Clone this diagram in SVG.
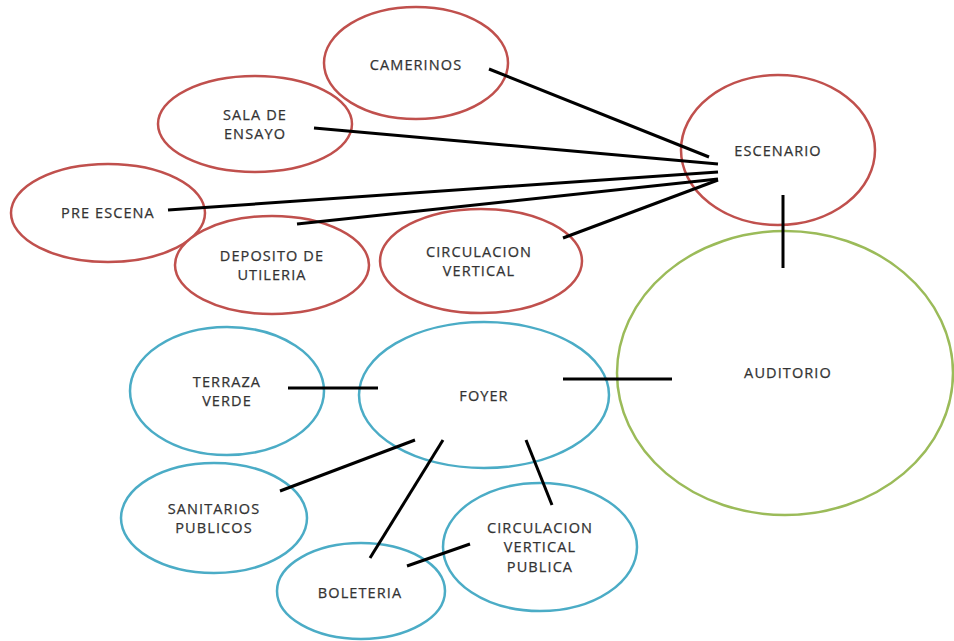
<svg xmlns="http://www.w3.org/2000/svg" width="954" height="641" viewBox="0 0 954 641">
<style>
.n{fill:#fff;stroke-width:2.5}
.r{stroke:#c0504d}
.g{stroke:#9bbb59}
.b{stroke:#4bacc6}
text{font-family:"Open Sans","Liberation Sans",sans-serif;font-size:14.5px;fill:#333;text-anchor:middle;letter-spacing:1.1px;stroke:#333;stroke-width:0.25px}
.c line{stroke:#000;stroke-width:3;stroke-linecap:butt}
</style>
<rect width="954" height="641" fill="#fff"/>
<g id="camerinos"><ellipse class="n r" cx="416" cy="63" rx="92" ry="56"/><text x="416" y="70">CAMERINOS</text></g>
<g id="sala-ensayo"><ellipse class="n r" cx="255" cy="124" rx="97" ry="48"/><text x="255" y="120">SALA DE</text><text x="255" y="139">ENSAYO</text></g>
<g id="pre-escena"><ellipse class="n r" cx="108" cy="213" rx="97" ry="49"/><text x="108" y="218">PRE ESCENA</text></g>
<g id="deposito"><ellipse class="n r" cx="272" cy="265" rx="97" ry="49"/><text x="272" y="261">DEPOSITO DE</text><text x="272" y="280">UTILERIA</text></g>
<g id="circulacion-vertical"><ellipse class="n r" cx="481" cy="261" rx="101" ry="52"/><text x="479" y="257">CIRCULACION</text><text x="479" y="276">VERTICAL</text></g>
<g id="escenario"><ellipse class="n r" cx="778" cy="150" rx="97" ry="75"/><text x="778" y="156">ESCENARIO</text></g>
<g id="auditorio"><ellipse class="n g" cx="785" cy="373" rx="168" ry="142"/><text x="788" y="378">AUDITORIO</text></g>
<g id="foyer"><ellipse class="n b" cx="484" cy="395" rx="125" ry="73"/><text x="484" y="401">FOYER</text></g>
<g id="terraza-verde"><ellipse class="n b" cx="227" cy="391" rx="97" ry="64"/><text x="227" y="387">TERRAZA</text><text x="227" y="406">VERDE</text></g>
<g id="sanitarios"><ellipse class="n b" cx="214" cy="518" rx="93" ry="55"/><text x="214" y="514">SANITARIOS</text><text x="214" y="533">PUBLICOS</text></g>
<g id="boleteria"><ellipse class="n b" cx="361" cy="591" rx="84" ry="48"/><text x="360" y="598">BOLETERIA</text></g>
<g id="circulacion-vertical-publica"><ellipse class="n b" cx="540" cy="547" rx="97" ry="64"/><text x="540" y="533">CIRCULACION</text><text x="540" y="552">VERTICAL</text><text x="540" y="572">PUBLICA</text></g>
<g id="connectors" class="c">
<line x1="489" y1="69" x2="709" y2="157"/>
<line x1="314" y1="128" x2="718" y2="164"/>
<line x1="168" y1="210" x2="718" y2="172"/>
<line x1="297" y1="224" x2="718" y2="179"/>
<line x1="563" y1="238" x2="718" y2="180"/>
<line x1="783" y1="195" x2="783" y2="268"/>
<line x1="563" y1="379" x2="672" y2="379"/>
<line x1="288" y1="388" x2="378" y2="388"/>
<line x1="280" y1="491" x2="415" y2="440"/>
<line x1="370" y1="558" x2="443" y2="440"/>
<line x1="526" y1="440" x2="552" y2="505"/>
<line x1="407" y1="566" x2="470" y2="544"/>
</g>
</svg>
